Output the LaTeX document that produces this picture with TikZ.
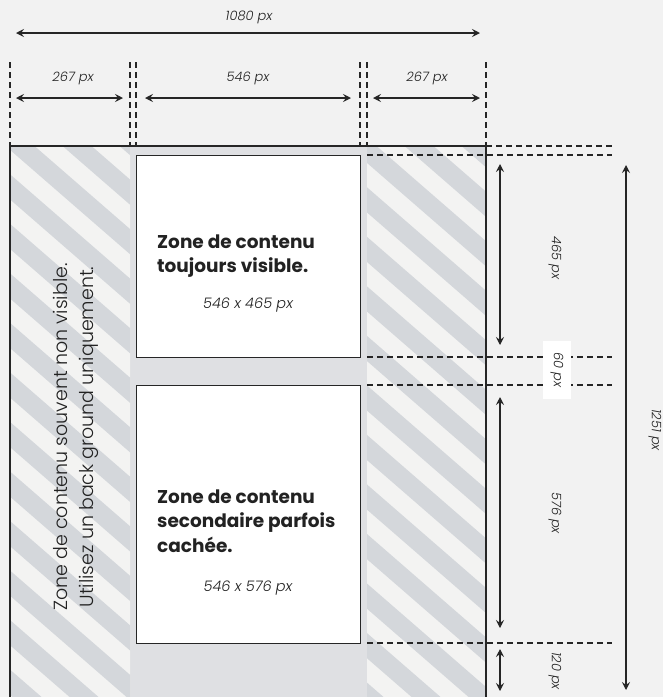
\documentclass[tikz,border=0pt]{standalone}
\usepackage{fontspec}
\setmainfont{Poppins}
\newfontfamily\plight{Poppins Light}[ItalicFont={Poppins Light Italic}]
\usetikzlibrary{arrows.meta}
\definecolor{bgc}{HTML}{F2F2F2}
\definecolor{panelc}{HTML}{F3F3F2}
\definecolor{stripec}{HTML}{D4D7DB}
\definecolor{midc}{HTML}{DFE0E3}
\definecolor{linec}{HTML}{262626}
\definecolor{textc}{HTML}{222222}
\tikzset{
  frameline/.style={draw=linec, line width=1.5pt},
  guide/.style={draw=linec, line width=1.2pt, dash pattern=on 6pt off 4pt},
  dimarrow/.style={draw=linec, line width=1.3pt,
    arrows={Stealth[length=8pt,width=8pt,inset=3pt]-Stealth[length=8pt,width=8pt,inset=3pt]}},
  dimlabel/.style={text=textc, inner sep=0pt, font=\plight\itshape\fontsize{13}{15}\selectfont},
  zonebox/.style={draw=linec, line width=1.3pt, fill=white, anchor=north west, inner sep=0pt},
  zonetitle/.style={text=textc, inner sep=0pt, anchor=west, align=left, font=\bfseries\fontsize{18.5}{24.5}\selectfont},
  zonesub/.style={text=textc, inner sep=0pt, font=\plight\itshape\fontsize{14.5}{16}\selectfont},
  stripe/.style={draw=stripec, line width=19pt}
}
\begin{document}
\begin{tikzpicture}[x=1pt,y=-1pt]
\useasboundingbox (0,0) rectangle (663,697);
\fill[bgc] (0,0) rectangle (663,697);
% central column
\fill[midc] (130,146) rectangle (367,697);
% hatched side panels
\fill[panelc] (10,146) rectangle (130,697) (367,146) rectangle (486,697);
\begin{scope}
  \clip (10,146) rectangle (130,697) (367,146) rectangle (486,697);
  \foreach \k in {-13,...,10} {
    \draw[stripe] ({20+57*\k-120},{146-120*0.869}) -- ++({900},{900*0.869});
  }
\end{scope}
% content boxes
\node[zonebox, minimum width=224pt, minimum height=202pt] (box1) at (136,155) {};
\node[zonebox, minimum width=224pt, minimum height=258pt] (box2) at (136,385) {};
\node[zonetitle] (title1) at (157,256) {Zone de contenu\\toujours visible.};
\node[zonesub] (sub1) at (248,305) {546 x 465 px};
\node[zonetitle] (title2) at (157,521) {Zone de contenu\\secondaire parfois\\cachée.};
\node[zonesub] (sub2) at (248,588) {546 x 576 px};
% side text
\node[rotate=90, text=textc, inner sep=0pt, align=center, font=\plight\fontsize{19}{26}\selectfont] (sidetext) at (76,437)
  {Zone de contenu souvent non visible.\\Utilisez un back ground uniquement.};
% frame
\draw[frameline] (10,697) -- (10,146) -- (486,146) -- (486,697);
% vertical guides
\foreach \x in {10,130,136,360,367,486} {
  \draw[guide] (\x,62) -- (\x,146);
}
% horizontal guides
\draw[guide] (486,146) -- (612,146);
\foreach \y in {155,357,385,643} {
  \draw[guide] (367,\y) -- (612,\y);
}
% horizontal dimensions
\coordinate (wA) at (16,33);  \coordinate (wB) at (480,33);
\coordinate (lA) at (16,98);  \coordinate (lB) at (123,98);
\coordinate (cA) at (145,98); \coordinate (cB) at (351,98);
\coordinate (rA) at (373,98); \coordinate (rB) at (480,98);
\draw[dimarrow] (wA) -- (wB);
\draw[dimarrow] (lA) -- (lB);
\draw[dimarrow] (cA) -- (cB);
\draw[dimarrow] (rA) -- (rB);
\node[dimlabel] (l1080) at (249,17) {1080 px};
\node[dimlabel] (l267a) at (73,78) {267 px};
\node[dimlabel] (l546) at (248,78) {546 px};
\node[dimlabel] (l267b) at (427,78) {267 px};
% vertical dimensions
\coordinate (hA) at (500,164); \coordinate (hB) at (500,345);
\coordinate (sA) at (500,397); \coordinate (sB) at (500,628);
\coordinate (tA) at (500,649); \coordinate (tB) at (500,691);
\coordinate (fA) at (626,165); \coordinate (fB) at (626,690);
\draw[dimarrow] (hA) -- (hB);
\draw[dimarrow] (sA) -- (sB);
\draw[dimarrow] (tA) -- (tB);
\draw[dimarrow] (fA) -- (fB);
\node[dimlabel, rotate=-90] (l465) at (555,258) {465 px};
\node[dimlabel, rotate=-90, fill=white, inner xsep=12pt, inner ysep=8pt] (l60) at (557,370) {60 px};
\node[dimlabel, rotate=-90] (l576) at (555,513) {576 px};
\node[dimlabel, rotate=-90] (l120) at (555,671) {120 px};
\node[dimlabel, rotate=-90] (l1251) at (655,430) {1251 px};
\end{tikzpicture}
\end{document}
